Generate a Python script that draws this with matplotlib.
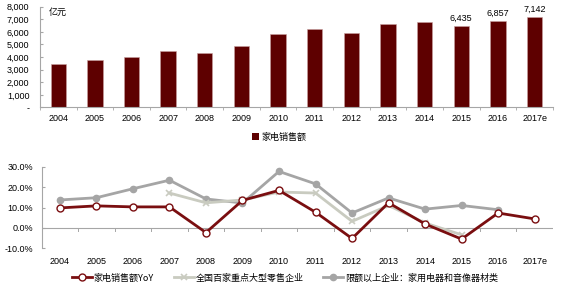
import numpy as np
import matplotlib
matplotlib.use("Agg")
import matplotlib.pyplot as plt
from matplotlib.lines import Line2D
from matplotlib.patches import Patch
from matplotlib.ticker import FuncFormatter

plt.rcParams['font.family'] = ['Liberation Sans', 'Noto Sans CJK SC', 'DejaVu Sans']

years = ["2004", "2005", "2006", "2007", "2008", "2009", "2010",
         "2011", "2012", "2013", "2014", "2015", "2016", "2017e"]
sales = [3420, 3760, 4030, 4450, 4340, 4900, 5830,
         6250, 5930, 6620, 6760, 6435, 6857, 7142]
labeled = {11: "6,435", 12: "6,857", 13: "7,142"}

yoy = [9.8, 10.8, 10.3, 10.3, -2.3, 13.5, 18.4,
       7.7, -5.2, 12.3, 1.9, -5.5, 7.3, 4.4]
top100 = [np.nan, np.nan, np.nan, 17.1, 12.3, 13.7, 17.6,
          17.1, 3.2, 11.0, 2.4, -3.4, np.nan, np.nan]
above = [13.7, 14.8, 19.2, 23.4, 14.2, 12.2, 27.7,
         21.6, 7.3, 14.7, 9.2, 11.0, 8.9, np.nan]

dark_red = "#5E0000"
line_red = "#7A0E10"
gray = "#A5A5A5"
light = "#C9CBC0"
axis_c = "#A6A6A6"
fs = 6.5

fig = plt.figure(figsize=(5.7, 2.88), dpi=100)
x = np.arange(len(years))

# --- top: bars ---
ax1 = fig.add_axes([0.070, 0.627, 0.900, 0.350])
ax1.bar(x, sales, width=0.42, color=dark_red, edgecolor="#C8A0A0", linewidth=0.4)
for i, s in labeled.items():
    ax1.text(i, sales[i] + 250, s, ha="center", va="bottom", fontsize=fs)
ax1.set_xlim(-0.5, len(years) - 0.5)
ax1.set_ylim(0, 8000)
ax1.set_yticks(range(0, 8001, 1000))
ax1.yaxis.set_major_formatter(FuncFormatter(lambda v, p: "-" if v == 0 else "{:,.0f}".format(v)))
ax1.set_xticks(x)
ax1.set_xticklabels(years)
ax1.set_xticks(np.arange(-0.5, len(years), 1), minor=True)
ax1.tick_params(axis="x", which="major", length=0, labelsize=fs, pad=5)
ax1.tick_params(axis="x", which="minor", length=2.5, color=axis_c, direction="out")
ax1.tick_params(axis="y", length=2.5, color=axis_c, labelsize=fs, pad=7.5, direction="in")
for sp in ["top", "right"]:
    ax1.spines[sp].set_visible(False)
for sp in ["left", "bottom"]:
    ax1.spines[sp].set_color(axis_c)
    ax1.spines[sp].set_linewidth(0.8)
ax1.text(0.018, 0.985, "亿元", transform=ax1.transAxes, fontsize=fs,
         family=['Noto Sans CJK SC'], va="top", ha="left")
fig.legend(handles=[Patch(facecolor=dark_red, edgecolor="none")], labels=["家电销售额"],
           loc="center", bbox_to_anchor=(0.49, 0.524), frameon=False,
           handlelength=0.7, handleheight=0.7, handletextpad=0.3,
           prop={'family': ['Noto Sans CJK SC'], 'size': fs})

# --- bottom: growth lines ---
ax2 = fig.add_axes([0.073, 0.138, 0.897, 0.283])
ax2.plot(x, above, color=gray, lw=2, marker="o", ms=4.5, mfc=gray, mec=gray, zorder=3)
ax2.plot(x, top100, color=light, lw=2, marker="x", ms=4.5, mew=1.2, zorder=3)
ax2.plot(x, yoy, color=line_red, lw=2, marker="o", ms=5, mfc="white", mec=line_red, mew=1, zorder=4)
ax2.set_xlim(-0.5, len(years) - 0.5)
ax2.set_ylim(-10, 30)
ax2.set_yticks([-10, 0, 10, 20, 30])
ax2.yaxis.set_major_formatter(FuncFormatter(lambda v, p: "{:.1f}%".format(v)))
ax2.axhline(0, color=axis_c, lw=0.8, zorder=1)
for b in np.arange(-0.5, len(years), 1):
    ax2.plot([b, b], [0, -1.3], color=axis_c, lw=0.7, zorder=1)
ax2.set_xticks(x)
ax2.set_xticklabels(years)
ax2.tick_params(axis="x", length=0, labelsize=fs, pad=6)
ax2.tick_params(axis="y", length=2.5, color=axis_c, labelsize=fs, pad=6, direction="in")
for sp in ["top", "right", "bottom"]:
    ax2.spines[sp].set_visible(False)
ax2.spines["left"].set_color(axis_c)
ax2.spines["left"].set_linewidth(0.8)

handles = [
    Line2D([0], [0], color=line_red, lw=2, marker="o", ms=5, mfc="white", mec=line_red),
    Line2D([0], [0], color=light, lw=2, marker="x", ms=4.5, mew=1.2),
    Line2D([0], [0], color=gray, lw=2, marker="o", ms=4.5, mfc=gray, mec=gray),
]
labels = ["家电销售额YoY", "全国百家重点大型零售企业", "限额以上企业：家用电器和音像器材类"]
fig.legend(handles, labels, loc="center", bbox_to_anchor=(0.50, 0.035), ncol=3,
           frameon=False, handlelength=2.2, handletextpad=0.2, columnspacing=2.2,
           prop={'family': ['Noto Sans CJK SC', 'Liberation Sans'], 'size': fs})

fig.savefig("out.png", dpi=100)
